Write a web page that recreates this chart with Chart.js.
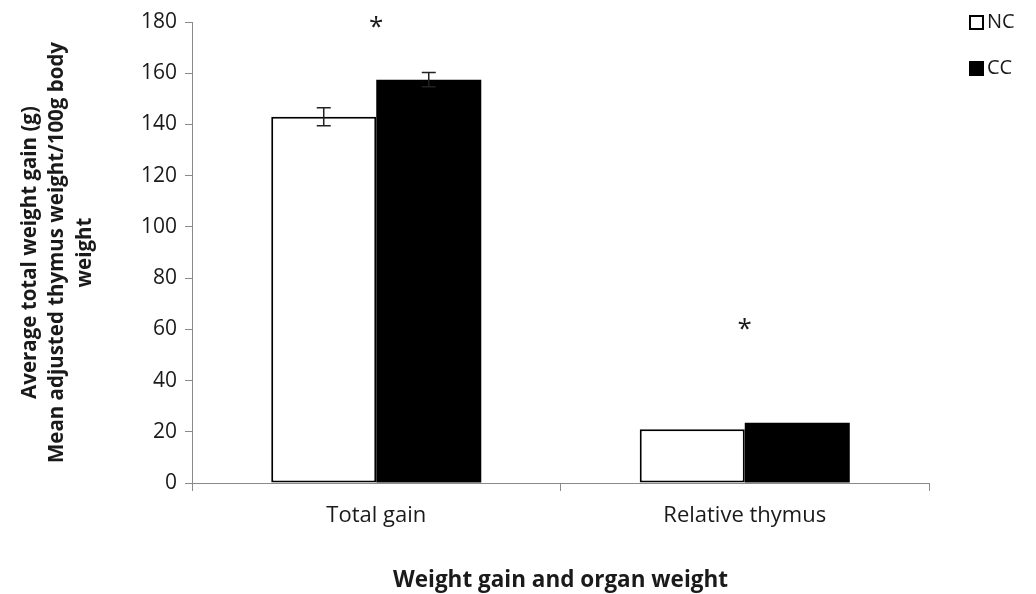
<!DOCTYPE html>
<html>
<head>
<meta charset="utf-8">
<script src="https://cdn.jsdelivr.net/npm/chart.js@4"></script>
<style>
  html, body { margin: 0; padding: 0; background: #fff; }
  #wrap { width: 1036px; height: 594px; }
</style>
</head>
<body>
<div id="wrap"><canvas id="chart" width="1036" height="594"></canvas></div>
<script>
// Chart data
const categories = ['Total gain', 'Relative thymus'];
const ncValues = [143, 21];
const ccValues = [157.5, 23.5];
const ncErrors = [3.5, 0];
const ccErrors = [2.8, 0];
// asterisks (value level above each group)
const starValues = [177, 59];
const yTicks = [0, 20, 40, 60, 80, 100, 120, 140, 160, 180];

const FONT = '"Open Sans", sans-serif';
const TEXT = '#1a1a1a';
const AXIS = '#8a8a8a';

// error bars, asterisks and legend
const extrasPlugin = {
    id: 'extras',
    afterDatasetsDraw(chart) {
        const ctx = chart.ctx;
        const y = chart.scales.y;
        const sets = [ncErrors, ccErrors];
        const vals = [ncValues, ccValues];
        ctx.save();
        ctx.strokeStyle = '#222';
        ctx.lineWidth = 1.5;
        sets.forEach((errs, di) => {
            const meta = chart.getDatasetMeta(di);
            meta.data.forEach((bar, i) => {
                if (!errs[i]) return;
                const top = y.getPixelForValue(vals[di][i] + errs[i]);
                const bot = y.getPixelForValue(vals[di][i] - errs[i]);
                ctx.beginPath();
                ctx.moveTo(bar.x, top); ctx.lineTo(bar.x, bot);
                ctx.moveTo(bar.x - 7, top); ctx.lineTo(bar.x + 7, top);
                ctx.moveTo(bar.x - 7, bot); ctx.lineTo(bar.x + 7, bot);
                ctx.stroke();
            });
        });
        ctx.fillStyle = TEXT;
        ctx.font = '26px ' + FONT;
        ctx.textAlign = 'center';
        ctx.textBaseline = 'middle';
        starValues.forEach((v, i) => {
            const x = chart.scales.x.getPixelForValue(i);
            ctx.fillText('*', x, y.getPixelForValue(v) - 2);
        });
        ctx.restore();
    },
    afterDraw(chart) {
        const ctx = chart.ctx;
        ctx.save();
        ctx.font = '20px ' + FONT;
        ctx.textBaseline = 'middle';
        ctx.fillStyle = TEXT;
        ctx.strokeStyle = '#000';
        ctx.lineWidth = 2;
        ctx.strokeRect(970, 16, 13, 13);
        ctx.fillText('NC', 987, 22);
        ctx.fillStyle = '#000';
        ctx.fillRect(969, 61, 15, 15);
        ctx.fillStyle = TEXT;
        ctx.fillText('CC', 987, 68);
        ctx.restore();
    }
};

const ctx = document.getElementById('chart').getContext('2d');
new Chart(ctx, {
    type: 'bar',
    data: {
        labels: categories,
        datasets: [
            {
                label: 'NC',
                data: ncValues,
                backgroundColor: '#ffffff',
                borderColor: '#000000',
                borderWidth: 2,
                borderSkipped: false
            },
            {
                label: 'CC',
                data: ccValues,
                backgroundColor: '#000000',
                borderColor: '#000000',
                borderWidth: 0
            }
        ]
    },
    options: {
        responsive: false,
        animation: false,
        categoryPercentage: 0.57,
        barPercentage: 1.0,
        layout: { padding: { top: 22, right: 107, left: 0, bottom: 0 } },
        plugins: {
            legend: { display: false },
            tooltip: { enabled: false }
        },
        scales: {
            x: {
                grid: { display: true, drawOnChartArea: false, drawTicks: true, tickLength: 8, color: AXIS, offset: true },
                border: { color: AXIS, width: 1 },
                ticks: { color: TEXT, font: { family: FONT, size: 22 }, padding: 12 },
                title: {
                    display: true,
                    text: 'Weight gain and organ weight',
                    color: TEXT,
                    font: { family: FONT, size: 22.5, weight: 'bold' },
                    padding: { top: 18, bottom: 0 }
                },
                afterFit(scale) { scale.height = 111; }
            },
            y: {
                min: 0,
                max: 180,
                afterBuildTicks(scale) { scale.ticks = yTicks.map(v => ({ value: v })); },
                grid: { display: true, drawOnChartArea: false, drawTicks: true, tickLength: 7, color: AXIS },
                border: { color: AXIS, width: 1 },
                ticks: { color: TEXT, font: { family: FONT, size: 21 }, padding: 8 },
                title: {
                    display: true,
                    text: ['Average total weight gain (g)', 'Mean adjusted thymus weight/100g body', 'weight'],
                    color: TEXT,
                    font: { family: FONT, size: 20.5, weight: 'bold', lineHeight: 1.34 },
                    padding: { top: 16, bottom: 0 }
                },
                afterFit(scale) { scale.width = 192; }
            }
        }
    },
    plugins: [extrasPlugin]
});
</script>
</body>
</html>
